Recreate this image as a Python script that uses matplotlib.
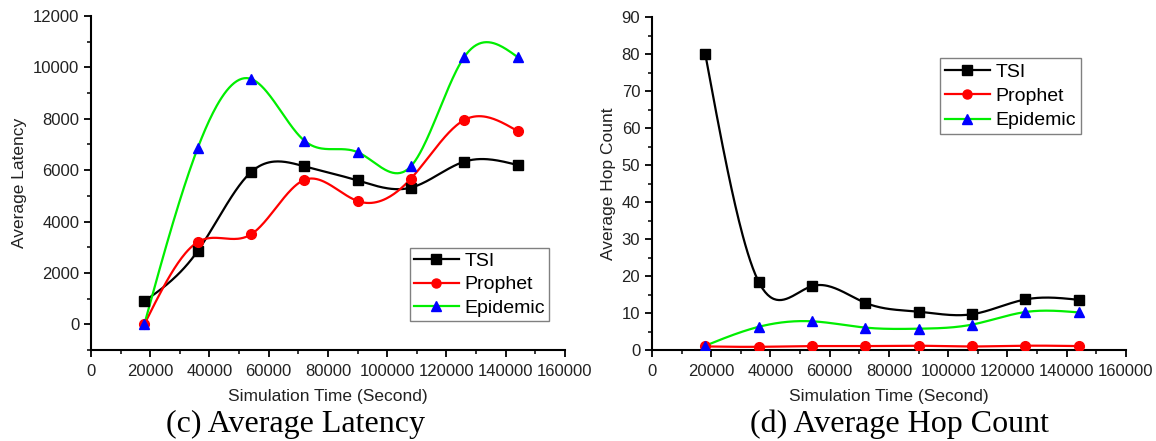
import numpy as np
import matplotlib.pyplot as plt
from matplotlib.ticker import MultipleLocator

plt.rcParams['font.family'] = ['Liberation Sans', 'DejaVu Sans']

# --- data ---
sim_time = [18000, 36000, 54000, 72000, 90000, 108000, 126000, 144000]

lat_tsi = [900, 2850, 5920, 6150, 5600, 5320, 6330, 6200]
lat_prophet = [0, 3200, 3500, 5620, 4800, 5670, 7950, 7520]
lat_epidemic = [0, 6850, 9550, 7150, 6700, 6150, 10400, 10400]

hop_tsi = [80, 18.5, 17.3, 12.8, 10.4, 9.7, 13.7, 13.6]
hop_prophet = [1.0, 0.9, 1.1, 1.1, 1.2, 1.0, 1.2, 1.1]
hop_epidemic = [1.2, 6.3, 7.8, 6.1, 5.8, 6.9, 10.3, 10.2]

series_names = ["TSI", "Prophet", "Epidemic"]


def spline(x, y, n=300):
    # natural cubic spline through the points (Origin "Spline" connect)
    x = np.asarray(x, float)
    y = np.asarray(y, float)
    k = len(x)
    h = np.diff(x)
    A = np.zeros((k, k))
    b = np.zeros(k)
    A[0, 0] = A[-1, -1] = 1
    for i in range(1, k - 1):
        A[i, i - 1] = h[i - 1]
        A[i, i] = 2 * (h[i - 1] + h[i])
        A[i, i + 1] = h[i]
        b[i] = 6 * ((y[i + 1] - y[i]) / h[i] - (y[i] - y[i - 1]) / h[i - 1])
    M = np.linalg.solve(A, b)
    xs = np.linspace(x[0], x[-1], n)
    idx = np.clip(np.searchsorted(x, xs) - 1, 0, k - 2)
    x0, x1 = x[idx], x[idx + 1]
    hh = x1 - x0
    t0, t1 = x1 - xs, xs - x0
    ys = (M[idx] * t0**3 + M[idx + 1] * t1**3) / (6 * hh) \
        + (y[idx] / hh - M[idx] * hh / 6) * t0 \
        + (y[idx + 1] / hh - M[idx + 1] * hh / 6) * t1
    return xs, ys


styles = [("black", "s", "black"), ("red", "o", "red"), ("#00ee00", "^", "blue")]

fig = plt.figure(figsize=(11.56, 4.41), dpi=100)
ax1 = fig.add_axes([0.0787, 0.206, 0.410, 0.758])
ax2 = fig.add_axes([0.564, 0.206, 0.410, 0.755])


def draw(ax, data):
    for ys, name, (lc, mk, mc) in zip(data, series_names, styles):
        sx, sy = spline(sim_time, ys)
        ax.plot(sx, sy, color=lc, lw=1.6, zorder=2)
        ax.plot(sim_time, ys, ls="none", marker=mk, color=mc, markersize=7, zorder=3)
        ax.plot([], [], color=lc, lw=1.6, marker=mk, markerfacecolor=mc,
                markeredgecolor=mc, markersize=6.5, label=name)
    for s in ["top", "right"]:
        ax.spines[s].set_visible(False)
    for s in ["left", "bottom"]:
        ax.spines[s].set_linewidth(1.5)
    ax.set_xlim(0, 160000)
    ax.xaxis.set_major_locator(MultipleLocator(20000))
    ax.xaxis.set_minor_locator(MultipleLocator(10000))
    ax.tick_params(which="major", direction="out", length=5, width=1.3,
                   labelsize=12, labelcolor="#222222")
    ax.tick_params(which="minor", direction="out", length=3, width=1.1)
    ax.tick_params(axis="x", pad=5)
    ax.set_xlabel("Simulation Time (Second)", fontsize=12.5, labelpad=7,
                  color="#222222")


draw(ax1, [lat_tsi, lat_prophet, lat_epidemic])
ax1.set_ylim(-1000, 12000)
ax1.set_yticks(range(0, 12001, 2000))
ax1.yaxis.set_minor_locator(MultipleLocator(1000))
ax1.set_ylabel("Average Latency", fontsize=12.5, color="#222222")
ax1.legend(loc="lower right", bbox_to_anchor=(0.966, 0.088), fontsize=14,
           fancybox=False, edgecolor="gray", framealpha=1, handlelength=2.3,
           borderpad=0.2, labelspacing=0.3, handletextpad=0.3,
           borderaxespad=0)

draw(ax2, [hop_tsi, hop_prophet, hop_epidemic])
ax2.set_ylim(0, 90)
ax2.yaxis.set_major_locator(MultipleLocator(10))
ax2.yaxis.set_minor_locator(MultipleLocator(5))
ax2.set_ylabel("Average Hop Count", fontsize=12.5, color="#222222")
ax2.legend(loc="upper right", bbox_to_anchor=(0.905, 0.877), fontsize=14,
           fancybox=False, edgecolor="gray", framealpha=1, handlelength=2.3,
           borderpad=0.25, labelspacing=0.35, handletextpad=0.3,
           borderaxespad=0)

fig.text(0.256, 0.038, "(c) Average Latency", family="Liberation Serif",
         fontsize=23, ha="center", va="center")
fig.text(0.778, 0.038, "(d) Average Hop Count", family="Liberation Serif",
         fontsize=23, ha="center", va="center")

plt.savefig("out.png", dpi=100)
